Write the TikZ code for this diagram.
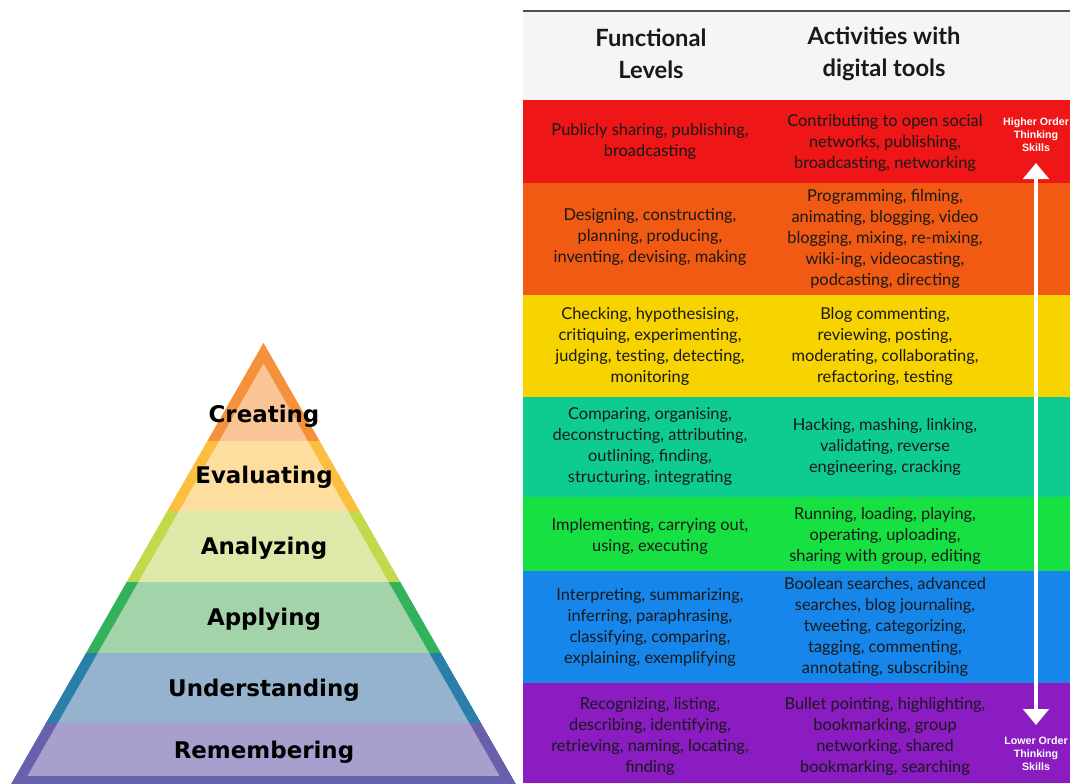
\documentclass[tikz,border=0pt]{standalone}
\usepackage{fontspec}
\setmainfont{Lato}
\newfontfamily\pyrfont{DejaVu Sans}
\newfontfamily\tagfont{Liberation Sans}
\usetikzlibrary{arrows.meta}

\definecolor{rowred}{RGB}{238,22,22}
\definecolor{roworange}{RGB}{240,90,18}
\definecolor{rowyellow}{RGB}{247,211,0}
\definecolor{rowteal}{RGB}{14,204,144}
\definecolor{rowgreen}{RGB}{22,224,66}
\definecolor{rowblue}{RGB}{22,134,234}
\definecolor{rowpurple}{RGB}{138,28,194}
\definecolor{headgray}{RGB}{243,245,247}
\definecolor{rulegray}{RGB}{80,80,80}
\definecolor{createdge}{RGB}{245,145,58}
\definecolor{creatfill}{RGB}{250,197,150}
\definecolor{evaledge}{RGB}{252,190,62}
\definecolor{evalfill}{RGB}{253,222,158}
\definecolor{analedge}{RGB}{196,216,76}
\definecolor{analfill}{RGB}{222,232,168}
\definecolor{applyedge}{RGB}{51,178,92}
\definecolor{applyfill}{RGB}{163,211,168}
\definecolor{undedge}{RGB}{42,127,168}
\definecolor{undfill}{RGB}{149,178,206}
\definecolor{rememedge}{RGB}{103,96,171}
\definecolor{rememfill}{RGB}{167,160,207}

\begin{document}
\begin{tikzpicture}[x=0.75pt,y=-0.75pt,
    cell/.style={align=center,inner sep=0pt,text=black!90,font=\fontsize{12.3}{15.75}\selectfont},
    head/.style={align=center,inner sep=0pt,text=black!90,font=\bfseries\fontsize{17.8}{24}\selectfont},
    level/.style={inner sep=0pt,text=black,font=\pyrfont\bfseries\fontsize{17.2}{20}\selectfont},
    tag/.style={align=center,inner sep=0pt,text=white,font=\tagfont\bfseries\fontsize{8}{9.75}\selectfont},
    edge/.style={line width=15pt,line join=miter},
    updown/.style={white,line width=3pt,{Triangle[width=19pt,length=12pt]}-{Triangle[width=19pt,length=12pt]}}]
    \useasboundingbox (0,0) rectangle (1070,783);

    % pyramid
    \coordinate (apex) at (263.5,343);
    \coordinate (bl) at (10,786);
    \coordinate (br) at (517,786);
    \begin{scope}
        \clip (0,330) rectangle (530,441);
        \clip (apex) -- (bl) -- (br) -- cycle;
        \fill[creatfill] (apex) -- (bl) -- (br) -- cycle;
        \draw[createdge,edge] (apex) -- (bl) -- (br) -- cycle;
    \end{scope}
    \begin{scope}
        \clip (0,441) rectangle (530,511);
        \clip (apex) -- (bl) -- (br) -- cycle;
        \fill[evalfill] (apex) -- (bl) -- (br) -- cycle;
        \draw[evaledge,edge] (apex) -- (bl) -- (br) -- cycle;
    \end{scope}
    \begin{scope}
        \clip (0,511) rectangle (530,582);
        \clip (apex) -- (bl) -- (br) -- cycle;
        \fill[analfill] (apex) -- (bl) -- (br) -- cycle;
        \draw[analedge,edge] (apex) -- (bl) -- (br) -- cycle;
    \end{scope}
    \begin{scope}
        \clip (0,582) rectangle (530,653);
        \clip (apex) -- (bl) -- (br) -- cycle;
        \fill[applyfill] (apex) -- (bl) -- (br) -- cycle;
        \draw[applyedge,edge] (apex) -- (bl) -- (br) -- cycle;
    \end{scope}
    \begin{scope}
        \clip (0,653) rectangle (530,723);
        \clip (apex) -- (bl) -- (br) -- cycle;
        \fill[undfill] (apex) -- (bl) -- (br) -- cycle;
        \draw[undedge,edge] (apex) -- (bl) -- (br) -- cycle;
    \end{scope}
    \begin{scope}
        \clip (0,723) rectangle (530,790);
        \clip (apex) -- (bl) -- (br) -- cycle;
        \fill[rememfill] (apex) -- (bl) -- (br) -- cycle;
        \draw[rememedge,edge] (apex) -- (bl) -- (br) -- cycle;
    \end{scope}
    \node[level] (creating) at (264,416) {Creating};
    \node[level] (evaluating) at (264,477) {Evaluating};
    \node[level] (analyzing) at (264,548) {Analyzing};
    \node[level] (applying) at (264,619) {Applying};
    \node[level] (understanding) at (264,690) {Understanding};
    \node[level] (remembering) at (264,752) {Remembering};

    % table
    \fill[headgray] (523,12) rectangle (1070,100);
    \draw[rulegray,line width=1.2pt] (523,11) -- (1070,11);
    \fill[rowred] (523,100) rectangle (1070,183);
    \fill[roworange] (523,183) rectangle (1070,295);
    \fill[rowyellow] (523,295) rectangle (1070,397);
    \fill[rowteal] (523,397) rectangle (1070,497);
    \fill[rowgreen] (523,497) rectangle (1070,571);
    \fill[rowblue] (523,571) rectangle (1070,683);
    \fill[rowpurple] (523,683) rectangle (1070,783);

    \node[head] (fhead) at (651,54) {Functional\\Levels};
    \node[head] (dhead) at (884,54) {Activities with\\digital tools};

    \node[cell] (fl1) at (650,141) {Publicly sharing, publishing,\\broadcasting};
    \node[cell] (dt1) at (885,143) {Contributing to open social\\networks, publishing,\\broadcasting, networking};
    \node[cell] (fl2) at (650,237) {Designing, constructing,\\planning, producing,\\inventing, devising, making};
    \node[cell] (dt2) at (885,239) {Programming, filming,\\animating, blogging, video\\blogging, mixing, re-mixing,\\wiki-ing, videocasting,\\podcasting, directing};
    \node[cell] (fl3) at (650,346) {Checking, hypothesising,\\critiquing, experimenting,\\judging, testing, detecting,\\monitoring};
    \node[cell] (dt3) at (885,346) {Blog commenting,\\reviewing, posting,\\moderating, collaborating,\\refactoring, testing};
    \node[cell] (fl4) at (650,447) {Comparing, organising,\\deconstructing, attributing,\\outlining, finding,\\structuring, integrating};
    \node[cell] (dt4) at (885,447) {Hacking, mashing, linking,\\validating, reverse\\engineering, cracking};
    \node[cell] (fl5) at (650,536) {Implementing, carrying out,\\using, executing};
    \node[cell] (dt5) at (885,536) {Running, loading, playing,\\operating, uploading,\\sharing with group, editing};
    \node[cell] (fl6) at (650,627) {Interpreting, summarizing,\\inferring, paraphrasing,\\classifying, comparing,\\explaining, exemplifying};
    \node[cell] (dt6) at (885,627) {Boolean searches, advanced\\searches, blog journaling,\\tweeting, categorizing,\\tagging, commenting,\\annotating, subscribing};
    \node[cell] (fl7) at (650,736) {Recognizing, listing,\\describing, identifying,\\retrieving, naming, locating,\\finding};
    \node[cell] (dt7) at (885,736) {Bullet pointing, highlighting,\\bookmarking, group\\networking, shared\\bookmarking, searching};

    % thinking skills arrow
    \node[tag] (hots) at (1036,135) {Higher Order\\Thinking\\Skills};
    \node[tag] (lots) at (1036,754) {Lower Order\\Thinking\\Skills};
    \coordinate (hi) at (1036,163);
    \coordinate (lo) at (1036,725);
    \draw[updown] (lo) -- (hi);
\end{tikzpicture}
\end{document}
